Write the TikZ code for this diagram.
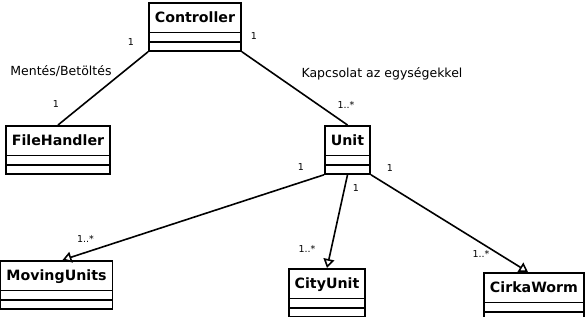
\documentclass[tikz,border=0pt]{standalone}
\usepackage{fontspec}
\setmainfont{DejaVu Sans}
\usepackage{tikz}
\usetikzlibrary{arrows.meta,shapes.multipart,positioning}
\newcommand{\namepart}[1]{\rule[-9pt]{0pt}{28pt}#1}
\newcommand{\emptypart}{\rule{0pt}{7.5pt}}

\begin{document}
\begin{tikzpicture}[
  x=1pt, y=-1pt,
  umlclass/.style={draw=black, fill=white, line width=1.7pt,
                   rectangle split, rectangle split parts=3,
                   inner xsep=6pt, inner ysep=0pt, anchor=north,
                   font=\fontsize{14.2}{16}\selectfont\bfseries},
  rolelabel/.style={font=\fontsize{12.5}{15}\selectfont, inner sep=0pt},
  multlabel/.style={font=\fontsize{9.5}{11}\selectfont, inner sep=0pt},
  assoc/.style={line width=1.6pt, black},
  gen/.style={line width=1.6pt, black, -{Triangle[open, length=9pt, width=11pt, fill=white]}},
]
\useasboundingbox (0,0) rectangle (586,316);
% ---------- classes ----------
\node[umlclass] (ctrl) at (195,2) {\namepart{Controller}\nodepart{second}\emptypart\nodepart{third}\emptypart};
\node[umlclass] (file) at (58,125) {\namepart{FileHandler}\nodepart{second}\emptypart\nodepart{third}\emptypart};
\node[umlclass] (unit) at (347.5,125) {\namepart{Unit}\nodepart{second}\emptypart\nodepart{third}\emptypart};
\node[umlclass] (moving) at (56.5,260) {\namepart{MovingUnits}\nodepart{second}\emptypart\nodepart{third}\emptypart};
\node[umlclass] (city) at (327,268) {\namepart{CityUnit}\nodepart{second}\emptypart\nodepart{third}\emptypart};
\node[umlclass] (worm) at (534,272) {\namepart{CirkaWorm}\nodepart{second}\emptypart\nodepart{third}\emptypart};
% ---------- associations ----------
\draw[assoc] (ctrl.south west) -- (file.north);
\draw[assoc] (ctrl.south east) -- (unit.north);
\draw[gen] (unit.south west) -- ([xshift=6pt]moving.north);
\draw[gen] (unit.south) -- (city.north);
\draw[gen] (unit.south east) -- ([xshift=-6pt]worm.north);
% ---------- labels ----------
\node[rolelabel] (lsave) at (61,71) {Mentés/Betöltés};
\node[rolelabel] (lconn) at (382,74) {Kapcsolat az egységekkel};
\node[multlabel] (mcf) at (131,42) {1};
\node[multlabel] (mfc) at (56,104) {1};
\node[multlabel] (mcu) at (254,36) {1};
\node[multlabel] (muc) at (346,105) {1..*};
\node[multlabel] (mum) at (301,167) {1};
\node[multlabel] (mmu) at (85.5,239) {1..*};
\node[multlabel] (muy) at (356,188) {1};
\node[multlabel] (myu) at (307,249) {1..*};
\node[multlabel] (muw) at (390,168) {1};
\node[multlabel] (mwu) at (481,254) {1..*};
\end{tikzpicture}
\end{document}
